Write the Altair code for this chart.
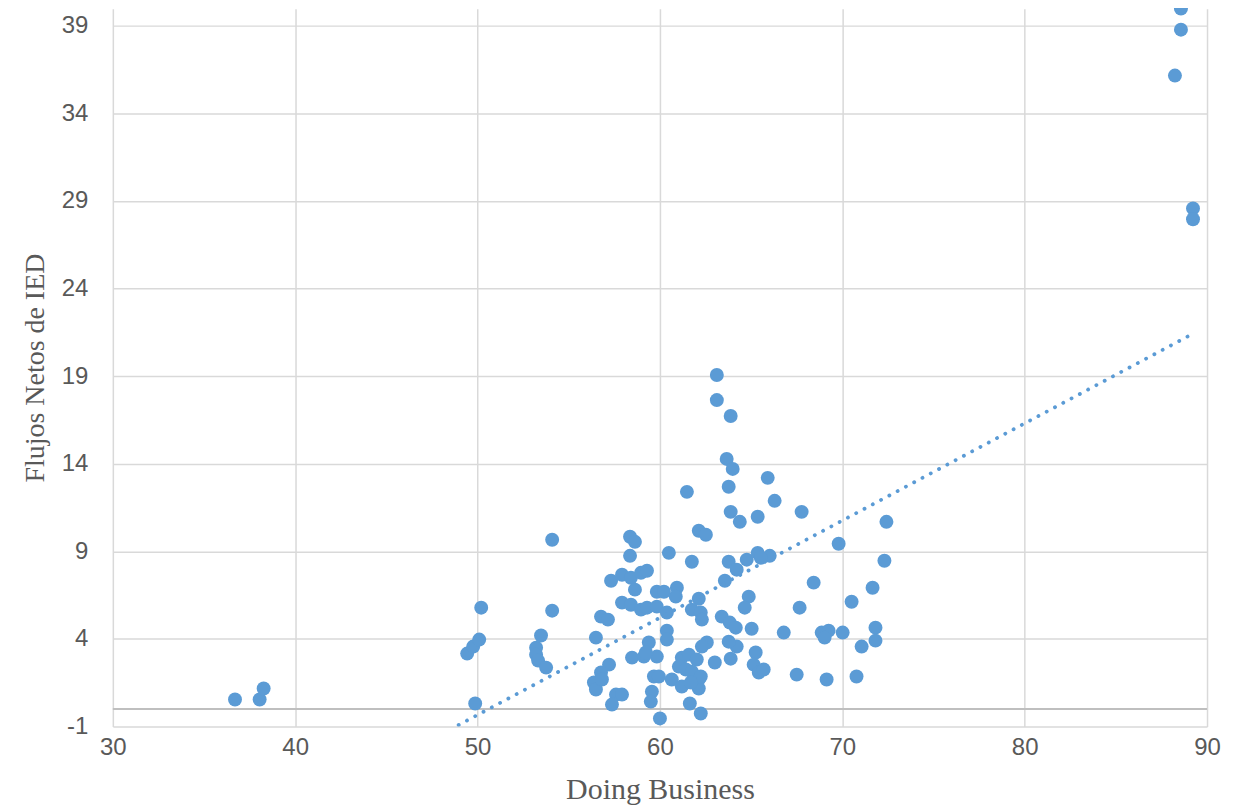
import altair as alt
import pandas as pd

doing_business = [
    36.70, 38.05, 38.27, 49.43, 49.76, 50.09, 50.20, 49.87, 53.21, 53.21,
    53.32, 53.48, 53.76, 54.09, 54.09, 58.36, 58.63, 58.36, 60.49, 57.32,
    57.92, 58.41, 58.96, 59.29, 58.63, 59.83, 60.22, 60.93, 60.87, 57.92,
    58.41, 58.96, 59.29, 59.83, 60.38, 56.77, 57.15, 56.49, 59.39, 60.38,
    60.38, 58.47, 59.12, 59.83, 57.21, 56.77, 56.38, 56.49, 56.82, 57.59,
    57.92, 57.37, 59.67, 59.56, 59.50, 59.94, 60.00, 63.12, 63.12, 63.88,
    63.66, 63.99, 65.91, 61.48, 63.77, 66.29, 67.77, 63.88, 64.38, 65.36,
    62.13, 62.52, 72.42, 69.80, 72.31, 61.75, 63.77, 64.76, 65.36, 66.02,
    65.53, 64.21, 63.56, 68.43, 71.66, 64.87, 70.51, 64.65, 67.66, 62.13,
    61.75, 62.24, 62.30, 63.39, 63.83, 64.16, 65.03, 66.79, 68.87, 69.25,
    69.03, 70.02, 71.82, 71.82, 71.06, 64.21, 62.57, 62.30, 65.25, 65.14,
    65.42, 65.69, 63.88, 63.01, 67.50, 69.14, 70.78, 61.64, 62.24, 62.13,
    62.13, 61.20, 61.59, 62.02, 61.04, 61.42, 61.75, 62.24, 60.65, 61.20,
    61.70, 59.23, 63.77, 88.57, 88.57, 88.24, 89.23, 89.23,
]

flujos_ied = [
    0.54, 0.54, 1.17, 3.16, 3.56, 3.96, 5.78, 0.31, 3.50, 3.10,
    2.76, 4.19, 2.36, 9.66, 5.61, 9.83, 9.54, 8.74, 8.91, 7.32,
    7.66, 7.49, 7.77, 7.89, 6.81, 6.69, 6.69, 6.92, 6.41, 6.07,
    5.95, 5.67, 5.78, 5.84, 5.50, 5.27, 5.10, 4.07, 3.79, 4.47,
    3.96, 2.93, 2.99, 2.99, 2.53, 2.08, 1.51, 1.11, 1.68, 0.82,
    0.82, 0.25, 1.85, 0.99, 0.42, 1.85, -0.54, 19.06, 17.63, 16.72,
    14.27, 13.70, 13.19, 12.39, 12.68, 11.88, 11.25, 11.25, 10.68, 10.97,
    10.17, 9.94, 10.68, 9.43, 8.46, 8.40, 8.40, 8.52, 8.91, 8.74,
    8.63, 7.95, 7.32, 7.21, 6.92, 6.41, 6.12, 5.78, 5.78, 6.29,
    5.67, 5.50, 5.10, 5.27, 4.93, 4.64, 4.58, 4.36, 4.36, 4.47,
    4.07, 4.36, 4.64, 3.90, 3.56, 3.56, 3.79, 3.56, 3.22, 2.53,
    2.08, 2.25, 2.87, 2.65, 1.96, 1.68, 1.85, 0.31, -0.26, 1.68,
    1.17, 2.93, 3.10, 2.82, 2.42, 2.25, 2.13, 1.85, 1.68, 1.28,
    1.51, 3.22, 3.84, 39.97, 38.77, 36.15, 28.57, 27.95,
]

x_ticks = [30, 40, 50, 60, 70, 80, 90]
y_ticks = [-1, 4, 9, 14, 19, 24, 29, 34, 39]
zero_line = [0]

df = pd.DataFrame({"x": doing_business, "y": flujos_ied})

blue = "#5B9BD5"
x_scale = alt.Scale(domain=[30, 90], nice=False, zero=False)
y_scale = alt.Scale(domain=[-1, 39.97], nice=False, zero=False)

x_axis = alt.Axis(values=x_ticks, title="Doing Business", labelPadding=9,
                  titlePadding=15, titleFontSize=30, labelOverlap=False,
                  labelFlush=False, labelExpr="'' + datum.value")
y_axis = alt.Axis(values=y_ticks, title="Flujos Netos de IED", labelPadding=25,
                  titlePadding=12, titleFontSize=28, labelOverlap=False,
                  labelFlush=False, labelExpr="'' + datum.value")

zero = alt.Chart(pd.DataFrame({"y": zero_line})).mark_rule(
    color="#BFBFBF", strokeWidth=2
).encode(y=alt.Y("y:Q", scale=y_scale, axis=y_axis))

points = alt.Chart(df).mark_circle(size=195, color=blue, opacity=1).encode(
    x=alt.X("x:Q", scale=x_scale, axis=x_axis),
    y=alt.Y("y:Q", scale=y_scale, axis=y_axis),
)

trend = alt.Chart(df).transform_regression("x", "y").mark_line(
    color=blue, strokeWidth=3.8, strokeDash=[0.1, 9.3], strokeCap="round", clip=True
).encode(
    x=alt.X("x:Q", scale=x_scale, axis=x_axis),
    y=alt.Y("y:Q", scale=y_scale, axis=y_axis),
)

chart = alt.layer(zero, points, trend).properties(
    width=1096,
    height=719,
    autosize=alt.AutoSizeParams(type="none"),
    padding={"left": 105, "top": 0, "right": 20, "bottom": 80},
).configure_axis(
    grid=True,
    gridColor="#D9D9D9",
    gridWidth=1.5,
    domain=False,
    ticks=False,
    labelFont="Liberation Sans",
    labelFontSize=24,
    labelColor="#595959",
    titleFont="Liberation Serif",
    titleFontWeight="normal",
    titleColor="#595959",
).configure_view(stroke=None)

chart.save("out.html", embed_options={"renderer": "svg", "actions": False})
